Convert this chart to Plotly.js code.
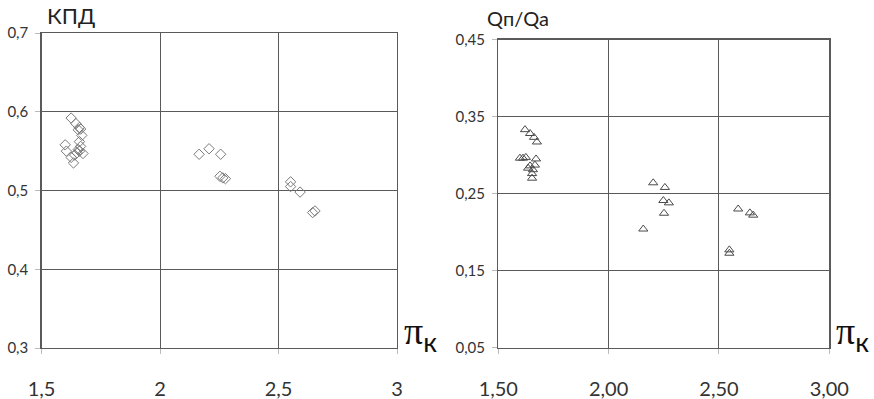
<!DOCTYPE html>
<html>
<head>
<meta charset="utf-8">
<script src="https://cdn.plot.ly/plotly-3.0.1.min.js"></script>
<style>html,body{margin:0;padding:0;background:#fff;}#chart{width:874px;height:399px;}</style>
</head>
<body>
<div id="chart"></div>
<script>
// Left chart: КПД vs pi_k
const kpdX = [1.625,1.645,1.66,1.655,1.665,1.67,1.66,1.60,1.605,1.64,1.655,1.665,1.675,1.625,1.65,1.635,1.66,
              2.165,2.207,2.256,2.253,2.265,2.276,
              2.551,2.551,2.591,2.644,2.654];
const kpdY = [0.592,0.585,0.580,0.577,0.578,0.570,0.562,0.558,0.550,0.545,0.552,0.556,0.547,0.542,0.548,0.535,0.550,
              0.546,0.553,0.546,0.518,0.516,0.515,
              0.511,0.505,0.498,0.472,0.474];
// Right chart: Qп/Qa vs pi_k
const qX = [1.621,1.644,1.662,1.675,1.598,1.612,1.625,1.671,1.644,1.635,1.657,1.653,1.653,1.666,
            2.202,2.255,2.248,2.273,2.251,2.157,
            2.587,2.640,2.655,2.547,2.547];
const qY = [0.333,0.328,0.323,0.317,0.296,0.296,0.297,0.295,0.286,0.283,0.281,0.276,0.270,0.287,
            0.264,0.258,0.241,0.238,0.2245,0.204,
            0.230,0.225,0.222,0.177,0.1726];
const leftXTicks = [1.5,2,2.5,3];
const leftYTicks = [0.3,0.4,0.5,0.6,0.7];
const rightXTicks = [1.5,2.0,2.5,3.0];
const rightYTicks = [0.05,0.15,0.25,0.35,0.45];

const W = 874, H = 399;
const font = "Lato, 'Open Sans', sans-serif";
const lineCol = '#5a5a5a';
function axX(domain, range, ticks, fmt, anchor){
  return {domain, range, anchor, tickvals: ticks, tickformat: fmt, showgrid:true, gridcolor:lineCol, gridwidth:1,
    showline:true, linecolor:lineCol, linewidth:1.3, mirror:true, zeroline:false,
    ticks:'outside', ticklen:5, tickcolor:'#bbbbbb', ticklabelstandoff:18,
    tickfont:{family:font, size:20, color:'#333'}, fixedrange:true};
}
function axY(domain, range, ticks, fmt, anchor){
  return {domain, range, anchor, tickvals: ticks, tickformat: fmt, showgrid:true, gridcolor:lineCol, gridwidth:1,
    showline:true, linecolor:lineCol, linewidth:1.3, mirror:true, zeroline:false,
    ticks:'outside', ticklen:5, tickcolor:'#bbbbbb', ticklabelstandoff:4,
    tickfont:{family:font, size:15, color:'#333'}, fixedrange:true};
}
const traces = [
  {x:kpdX, y:kpdY, xaxis:'x', yaxis:'y', mode:'markers', type:'scatter',
   marker:{symbol:'diamond-open', size:8, color:'#7a7a7a', line:{width:1}}},
  {x:qX, y:qY, xaxis:'x2', yaxis:'y2', mode:'markers', type:'scatter',
   marker:{symbol:'triangle-up-open', size:8, color:'#4a4a4a', line:{width:1}}}
];
const piText = 'π<sub><span style="font-family:Lato, sans-serif">к</span></sub>';
const layout = {
  width:W, height:H, margin:{l:0,r:0,t:0,b:0}, showlegend:false,
  paper_bgcolor:'#fff', plot_bgcolor:'#fff', separators:', ',
  xaxis: axX([41.5/W, 397/W], [1.5,3], leftXTicks, '', 'y'),
  yaxis: axY([1-348/H, 1-33/H], [0.3,0.7], leftYTicks, '.1f', 'x'),
  xaxis2: axX([498.3/W, 829.3/W], [1.5,3], rightXTicks, '.2f', 'y2'),
  yaxis2: axY([1-347.7/H, 1-39.5/H], [0.05,0.45], rightYTicks, '.2f', 'x2'),
  annotations:[
    {xref:'paper', yref:'paper', x:45/W, y:1-15/H, xanchor:'left', yanchor:'middle', showarrow:false,
     text:'КПД', font:{family:font, size:22, color:'#222'}},
    {xref:'paper', yref:'paper', x:485/W, y:1-18/H, xanchor:'left', yanchor:'middle', showarrow:false,
     text:'Qп/Qa', font:{family:font, size:20, color:'#222'}},
    {xref:'paper', yref:'paper', x:402/W, y:1-334/H, xanchor:'left', yanchor:'middle', showarrow:false,
     text:piText, font:{family:"'Liberation Serif', serif", size:38, color:'#111'}},
    {xref:'paper', yref:'paper', x:834/W, y:1-334/H, xanchor:'left', yanchor:'middle', showarrow:false,
     text:piText, font:{family:"'Liberation Serif', serif", size:38, color:'#111'}}
  ]
};
Plotly.newPlot('chart', traces, layout, {staticPlot:true});
</script>
</body>
</html>
